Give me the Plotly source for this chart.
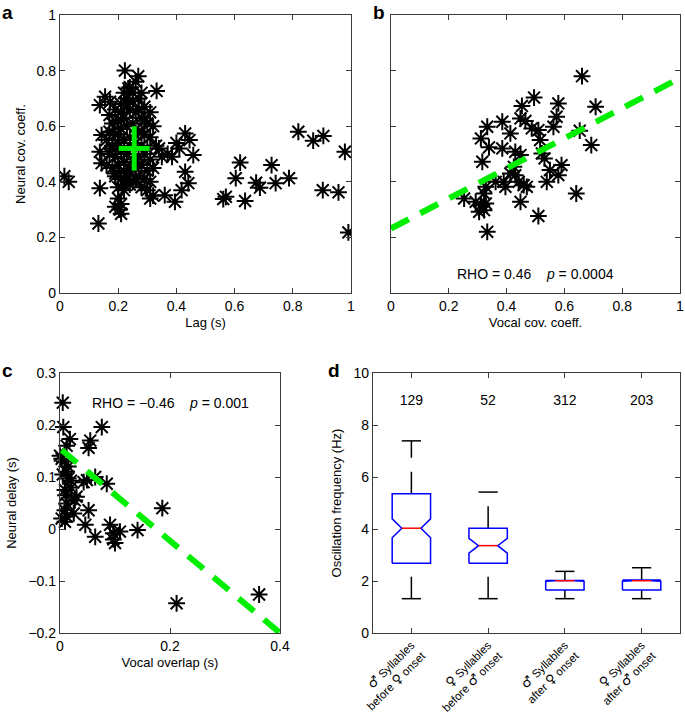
import plotly.graph_objects as go

# ---------------- data ----------------
# Panel a: Lag (s) vs Neural cov. coeff.
a_lag = [0.17,0.19,0.21,0.23,0.25,0.27,0.29,0.31,
         0.18,0.20,0.22,0.24,0.26,0.28,0.30,0.32,
         0.17,0.19,0.21,0.23,0.25,0.27,0.29,0.31,
         0.16,0.18,0.20,0.22,0.24,0.26,0.28,0.30,0.33,
         0.17,0.19,0.21,0.23,0.25,0.27,0.29,0.31,
         0.16,0.18,0.20,0.22,0.24,0.26,0.28,0.30,0.32,
         0.19,0.21,0.23,0.25,0.27,0.29,0.31,
         0.20,0.22,0.24,0.28,0.30,0.32,0.31,
         0.20,0.21,0.19,0.205,0.21,
         0.24,0.26,0.22,0.28,
         0.18,0.20,0.22,0.24,0.26,0.28,0.21,0.23,0.25,0.27,0.29,0.19,0.22,0.26,
         0.223,0.269,0.332,0.235,0.155,0.137,0.172,0.143,0.137,0.143,0.137,0.132,0.015,0.03,
         0.43,0.445,0.458,0.43,0.441,0.418,0.395,0.36,0.385,0.41,0.37,0.35,0.40,0.34,
         0.619,0.604,0.57,0.561,0.636,0.674,0.687,0.727,0.741,0.787,
         0.819,0.87,0.905,0.979,0.903,0.957,0.991]
a_cov = [0.64,0.66,0.68,0.70,0.72,0.70,0.67,0.65,
         0.61,0.62,0.63,0.66,0.65,0.63,0.61,0.60,
         0.58,0.57,0.59,0.60,0.61,0.58,0.57,0.56,
         0.55,0.53,0.54,0.55,0.56,0.54,0.53,0.52,0.53,
         0.50,0.49,0.51,0.50,0.48,0.49,0.50,0.48,
         0.46,0.45,0.46,0.47,0.44,0.45,0.46,0.44,0.45,
         0.42,0.41,0.42,0.40,0.42,0.41,0.40,
         0.38,0.37,0.39,0.38,0.37,0.35,0.34,
         0.34,0.32,0.31,0.30,0.285,
         0.74,0.76,0.72,0.72,
         0.52,0.57,0.44,0.53,0.47,0.58,0.65,0.68,0.69,0.66,0.62,0.43,0.39,0.41,
         0.80,0.78,0.727,0.736,0.706,0.676,0.688,0.568,0.508,0.467,0.377,0.25,0.42,0.40,
         0.574,0.55,0.496,0.436,0.395,0.37,0.328,0.352,0.49,0.52,0.50,0.49,0.54,0.52,
         0.469,0.413,0.346,0.338,0.331,0.397,0.379,0.46,0.395,0.413,
         0.58,0.548,0.565,0.508,0.37,0.362,0.218]
a_mean = [0.255, 0.52]
a_err = [0.053, 0.08]

# Panel b: Vocal cov. coeff. vs Neural cov. coeff.
b_vocal = [0.661,0.708,0.495,0.579,0.453,0.573,0.562,0.333,0.385,0.448,0.465,0.487,0.51,
           0.413,0.311,0.516,0.653,0.693,0.339,0.385,0.43,0.448,0.522,0.531,0.316,0.425,
           0.413,0.43,0.55,0.59,0.579,0.39,0.362,0.442,0.459,0.47,0.539,0.396,0.328,0.322,
           0.253,0.641,0.293,0.311,0.328,0.305,0.322,0.448,0.51,0.333]
b_neural = [0.78,0.67,0.703,0.682,0.673,0.634,0.598,0.598,0.616,0.628,0.619,0.592,0.586,
            0.574,0.556,0.55,0.584,0.532,0.524,0.52,0.508,0.496,0.502,0.484,0.472,0.454,
            0.43,0.424,0.442,0.46,0.424,0.40,0.40,0.40,0.388,0.382,0.40,0.382,0.382,0.358,
            0.34,0.358,0.328,0.316,0.322,0.292,0.298,0.328,0.277,0.22]
b_fit_x = [0.0, 1.0]
b_fit_y = [0.232, 0.773]

# Panel c: Vocal overlap (s) vs Neural delay (s)
c_overlap = [0.005,0.006,0.018,0.012,0.076,0.055,0.052,0.003,0.008,0.085,0.064,0.043,0.02,
             0.009,0.03,0.012,0.052,0.012,0.009,0.186,0.046,0.064,0.091,0.097,0.109,0.10,
             0.097,0.141,0.212,0.362,0.015,0.0,0.015,0.049,0.027,0.009,0.003,0.012,0.01,
             0.02,0.005,0.025]
c_delay = [0.243,0.196,0.173,0.16,0.196,0.17,0.156,0.135,0.13,0.087,0.10,0.09,0.093,
           0.075,0.062,0.049,0.036,0.024,0.014,0.04,0.008,-0.015,0.008,-0.008,-0.005,-0.027,
           -0.02,-0.002,-0.143,-0.126,0.097,0.141,0.12,0.094,0.055,0.036,0.02,0.11,0.065,
           0.08,0.105,0.03]
c_fit_x = [0.003, 0.4]
c_fit_y = [0.152, -0.200]

# Panel d: notched box plots
MALE = '<span style="font-family:DejaVu Sans;font-size:13px">♂</span>'
FEMALE = '<span style="font-family:DejaVu Sans;font-size:13px">♀</span>'
d_pos = [1, 2, 3, 4]
d_labels = [MALE + " Syllables<br>before " + FEMALE + " onset",
            FEMALE + " Syllables<br>before " + MALE + " onset",
            MALE + " Syllables<br>after " + FEMALE + " onset",
            FEMALE + " Syllables<br>after " + MALE + " onset"]
d_counts = ["129", "52", "312", "203"]
d_q1 = [2.68, 2.68, 1.65, 1.65]
d_med = [4.03, 3.36, 2.01, 2.01]
d_q3 = [5.36, 4.03, 2.02, 2.04]
d_notch_lo = [3.66, 3.07, 1.99, 1.99]
d_notch_hi = [4.39, 3.64, 2.02, 2.04]
d_wlo = [1.32, 1.32, 1.32, 1.32]
d_whi = [7.39, 5.42, 2.37, 2.51]

# ---------------- styling ----------------
FONT = "Liberation Sans, Arial, Helvetica, DejaVu Sans, sans-serif"
AX = "#3a3a3a"
GREEN = "#00ee00"
star = dict(symbol="asterisk-open", size=14, color="black", line=dict(color="black", width=2))

fig = go.Figure()

# a
fig.add_trace(go.Scatter(x=a_lag, y=a_cov, mode="markers", marker=star, xaxis="x", yaxis="y",
                         showlegend=False, hoverinfo="skip"))
fig.add_trace(go.Scatter(x=[a_mean[0]], y=[a_mean[1]], mode="markers",
                         marker=dict(size=1, color=GREEN),
                         error_x=dict(type="constant", value=a_err[0], color=GREEN, thickness=5, width=0),
                         error_y=dict(type="constant", value=a_err[1], color=GREEN, thickness=5, width=0),
                         xaxis="x", yaxis="y", showlegend=False, hoverinfo="skip"))

# b
fig.add_trace(go.Scatter(x=b_vocal, y=b_neural, mode="markers", marker=star, xaxis="x2", yaxis="y2",
                         showlegend=False, hoverinfo="skip"))
fig.add_trace(go.Scatter(x=b_fit_x, y=b_fit_y, mode="lines",
                         line=dict(color=GREEN, width=6, dash="20px,13px"),
                         xaxis="x2", yaxis="y2", showlegend=False, hoverinfo="skip"))

# c
fig.add_trace(go.Scatter(x=c_overlap, y=c_delay, mode="markers", marker=star, xaxis="x3", yaxis="y3",
                         showlegend=False, hoverinfo="skip", cliponaxis=False))
fig.add_trace(go.Scatter(x=c_fit_x, y=c_fit_y, mode="lines",
                         line=dict(color=GREEN, width=6, dash="20px,13px"),
                         xaxis="x3", yaxis="y3", showlegend=False, hoverinfo="skip"))

# d
bw = 0.25   # half box width
nw = 0.125  # notch inset / cap half width
for i, p in enumerate(d_pos):
    q1, md, q3 = d_q1[i], d_med[i], d_q3[i]
    nl, nh = d_notch_lo[i], d_notch_hi[i]
    bx = [p - bw, p + bw, p + bw, p + nw, p + bw, p + bw, p - bw, p - bw, p - nw, p - bw, p - bw]
    by = [q1, q1, nl, md, nh, q3, q3, nh, md, nl, q1]
    fig.add_trace(go.Scatter(x=[p, p], y=[d_wlo[i], q1], mode="lines",
                             line=dict(color="black", width=1.5, dash="22px,14px"),
                             xaxis="x4", yaxis="y4", showlegend=False, hoverinfo="skip"))
    fig.add_trace(go.Scatter(x=[p, p], y=[q3, d_whi[i]], mode="lines",
                             line=dict(color="black", width=1.5, dash="22px,14px"),
                             xaxis="x4", yaxis="y4", showlegend=False, hoverinfo="skip"))
    for cy in (d_wlo[i], d_whi[i]):
        fig.add_trace(go.Scatter(x=[p - nw, p + nw], y=[cy, cy], mode="lines",
                                 line=dict(color="black", width=1.5),
                                 xaxis="x4", yaxis="y4", showlegend=False, hoverinfo="skip"))
    fig.add_trace(go.Scatter(x=bx, y=by, mode="lines", line=dict(color="#0000ff", width=1.5),
                             xaxis="x4", yaxis="y4", showlegend=False, hoverinfo="skip"))
    fig.add_trace(go.Scatter(x=[p - nw, p + nw], y=[md, md], mode="lines",
                             line=dict(color="#ff0000", width=1.5),
                             xaxis="x4", yaxis="y4", showlegend=False, hoverinfo="skip"))

fig.add_trace(go.Scatter(x=d_pos, y=[8.9] * len(d_pos), mode="text", text=d_counts,
                         textfont=dict(size=14, color="black", family=FONT),
                         xaxis="x4", yaxis="y4", showlegend=False, hoverinfo="skip"))

W, H = 685, 713
def fx(px): return px / W
def fy(py): return 1 - py / H

common = dict(showline=True, linecolor=AX, linewidth=1.3, mirror="ticks", ticks="inside",
              ticklen=5, tickwidth=1.2, tickcolor=AX, showgrid=False, zeroline=False,
              automargin=False, ticklabeloverflow="allow",
              title_font=dict(size=13, color="black", family=FONT))
tf = dict(size=14, color="black", family=FONT)

fig.update_layout(
    width=W, height=H, margin=dict(l=0, r=0, t=0, b=0, autoexpand=False),
    paper_bgcolor="white", plot_bgcolor="white", font=dict(family=FONT, color="black"),
    xaxis=dict(domain=[fx(60), fx(351)], range=[0, 1], dtick=0.2, anchor="y", tickfont=tf,
               title=dict(text="Lag (s)", standoff=4), **common),
    yaxis=dict(domain=[fy(293), fy(15)], range=[0, 1], dtick=0.2, anchor="x", tickfont=tf,
               title=dict(text="Neural cov. coeff.", standoff=8), **common),
    xaxis2=dict(domain=[fx(391), fx(680)], range=[0, 1], dtick=0.2, anchor="y2", tickfont=tf,
                title=dict(text="Vocal cov. coeff.", standoff=4), **common),
    yaxis2=dict(domain=[fy(293), fy(15)], range=[0, 1], dtick=0.2, anchor="x2", tickfont=tf,
                showticklabels=False, **common),
    xaxis3=dict(domain=[fx(60), fx(280)], range=[0, 0.4], dtick=0.2, anchor="y3", tickfont=tf,
                title=dict(text="Vocal overlap (s)", standoff=4), **common),
    yaxis3=dict(domain=[fy(633), fy(373)], range=[-0.2, 0.3], dtick=0.1, anchor="x3", tickfont=tf,
                title=dict(text="Neural delay (s)", standoff=8), **common),
    xaxis4=dict(domain=[fx(373), fx(680)], range=[0.5, 4.5], anchor="y4",
                tickvals=d_pos, ticktext=d_labels, tickangle=-45,
                tickfont=dict(size=11.5, color="black", family=FONT), **common),
    yaxis4=dict(domain=[fy(633), fy(373)], range=[0, 10], dtick=2, anchor="x4", tickfont=tf,
                title=dict(text="Oscillation frequency (Hz)", standoff=8), **common),
)

rho_font = dict(size=14, color="black", family=FONT)
nb = "\u00a0"
fig.add_annotation(x=0.5, y=0.07, xref="x2", yref="y2", showarrow=False, font=rho_font,
                   text="RHO = 0.46" + nb * 4 + "<i>p</i> = 0.0004")
fig.add_annotation(x=0.2, y=0.243, xref="x3", yref="y3", showarrow=False, font=rho_font,
                   text="RHO = \u22120.46" + nb * 4 + "<i>p</i> = 0.001")

lab_font = dict(size=19, color="black", family=FONT)
for t, px, py in [("a", 0, 0), ("b", 371, 0), ("c", 0, 358), ("d", 326, 358)]:
    fig.add_annotation(x=fx(px), y=fy(py), xref="paper", yref="paper", xanchor="left", yanchor="top",
                       showarrow=False, text="<b>%s</b>" % t, font=lab_font)

fig.write_html("out.html", config={"displayModeBar": False},
               post_script="document.body.style.margin='0';document.body.style.overflow='hidden';")
